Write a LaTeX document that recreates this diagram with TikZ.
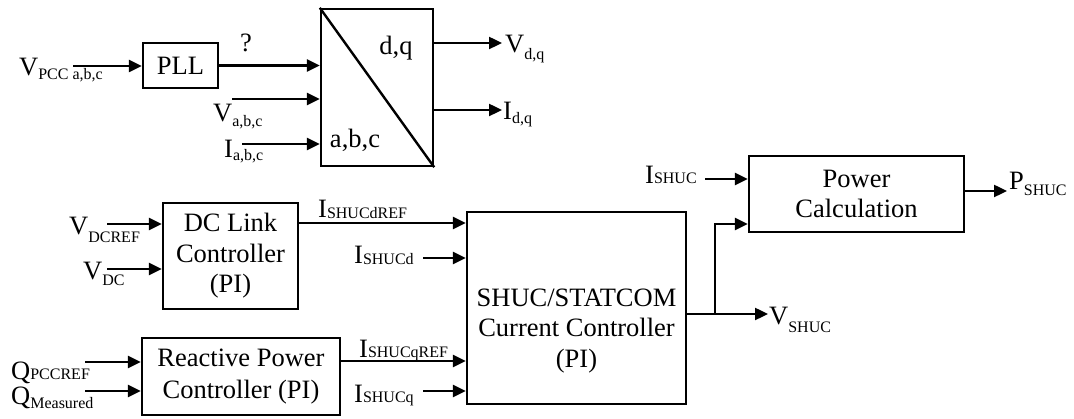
\documentclass[tikz,border=0pt]{standalone}
\usepackage{fontspec}
\setmainfont{Liberation Serif}
\usetikzlibrary{arrows.meta}
\newcommand{\subf}{\fontsize{16}{18}\selectfont}
\newcommand{\sig}[3]{#1\raisebox{-#3pt}{\subf #2}}
\begin{document}
\begin{tikzpicture}[x=1pt,y=-1pt,line width=2.4pt,
  blk/.style={draw,rectangle,inner sep=0pt,align=center,font=\fontsize{26.5}{30.5}\selectfont},
  arr/.style={-{Triangle[length=13pt,width=12pt]}},
  lbl/.style={anchor=base west,inner sep=0pt,font=\fontsize{26.5}{30.5}\selectfont},
  ctr/.style={anchor=base,inner sep=0pt,font=\fontsize{26.5}{30.5}\selectfont}]
\useasboundingbox (0,0) rectangle (1074,419);

% blocks
\node[blk,minimum width=75pt,minimum height=45pt] (pll) at (180.5,65.5) {PLL};
\node[draw,rectangle,inner sep=0pt,minimum width=112pt,minimum height=157pt] (xf) at (377,87.5) {};
\draw (xf.north west) -- (xf.south east);
\node[ctr] (dq) at (396,55) {d,q};
\node[ctr] (abc) at (355,148) {a,b,c};

\node[blk,minimum width=135pt,minimum height=106pt] (dcl) at (230.5,256) {DC Link\\Controller\\(PI)};
\node[blk,minimum width=198pt,minimum height=77pt,font=\fontsize{26.5}{32}\selectfont] (rpc) at (241,376.5) {Reactive Power\\Controller (PI)};
\node[draw,rectangle,inner sep=0pt,minimum width=219pt,minimum height=192pt] (shuc) at (576.5,308) {};
\node[inner sep=0pt,align=center,font=\fontsize{26.5}{30.5}\selectfont] (shuct) at (576.5,331) {SHUC/STATCOM\\Current Controller\\(PI)};
\node[blk,minimum width=215pt,minimum height=76pt] (pc) at (856.5,194) {Power\\Calculation};

% free ends
\coordinate (i1) at (73,66);
\coordinate (i2) at (232,99);
\coordinate (i3) at (242,144);
\coordinate (o1) at (502,43);
\coordinate (o2) at (502,110);
\coordinate (i4) at (107,224);
\coordinate (i5) at (107,269);
\coordinate (i6) at (423,258);
\coordinate (i7) at (85,362);
\coordinate (i8) at (85,391);
\coordinate (i9) at (423,391);
\coordinate (j1) at (715,314);
\coordinate (o3) at (768,314);
\coordinate (j2) at (715,224);
\coordinate (i10) at (705,179);
\coordinate (o4) at (1007,191);

% connectors
\draw[arr] (i1) -- (i1 -| pll.west);
\draw[arr] (pll.east) -- (pll.east -| xf.west);
\draw[arr] (i2) -- (i2 -| xf.west);
\draw[arr] (i3) -- (i3 -| xf.west);
\draw[arr] (o1 -| xf.east) -- (o1);
\draw[arr] (o2 -| xf.east) -- (o2);
\draw[arr] (i4) -- (i4 -| dcl.west);
\draw[arr] (i5) -- (i5 -| dcl.west);
\draw[arr] (dcl.east |- 0,223) -- (shuc.west |- 0,223);
\draw[arr] (i6) -- (i6 -| shuc.west);
\draw[arr] (i7) -- (i7 -| rpc.west);
\draw[arr] (i8) -- (i8 -| rpc.west);
\draw[arr] (rpc.east |- 0,361) -- (shuc.west |- 0,361);
\draw[arr] (i9) -- (i9 -| shuc.west);
\draw[arr] (shuc.east |- j1) -- (j1) -- (o3);
\draw[arr] (j1) -- (j2) -- (j2 -| pc.west);
\draw[arr] (i10) -- (i10 -| pc.west);
\draw[arr] (pc.east |- o4) -- (o4);

% labels
\node[lbl] (lvpcc) at (18,76) {\sig{V}{PCC a,b,c}{4}};
\node[ctr] (lq) at (246,52) {?};
\node[lbl] (lvabc) at (212,122) {\sig{V}{a,b,c}{5}};
\node[lbl] (liabc) at (223,158) {\sig{I}{a,b,c}{3}};
\node[lbl] (lvdq) at (504,53) {\sig{V}{d,q}{7}};
\node[lbl] (lidq) at (502,120) {\sig{I}{d,q}{4}};
\node[lbl] (lvdcref) at (68,235) {\sig{V}{DCREF}{8}};
\node[lbl] (lvdc) at (82,280) {\sig{V}{DC}{6}};
\node[lbl] (lisdref) at (317,218) {\sig{I}{SHUCdREF}{1}};
\node[lbl] (lisd) at (353,264) {\sig{I}{SHUCd}{1}};
\node[lbl] (lqref) at (10,380) {\sig{Q}{PCCREF}{0}};
\node[lbl] (lqmeas) at (10,405) {\sig{Q}{Measured}{4}};
\node[lbl] (lisqref) at (358,358) {\sig{I}{SHUCqREF}{0}};
\node[lbl] (lisq) at (353,403) {\sig{I}{SHUCq}{0}};
\node[lbl] (lishuc) at (644,184) {\sig{I}{SHUC}{0}};
\node[lbl] (lvshuc) at (768,325) {\sig{V}{SHUC}{8}};
\node[lbl] (lpshuc) at (1008,190) {\sig{P}{SHUC}{6}};
\end{tikzpicture}
\end{document}
